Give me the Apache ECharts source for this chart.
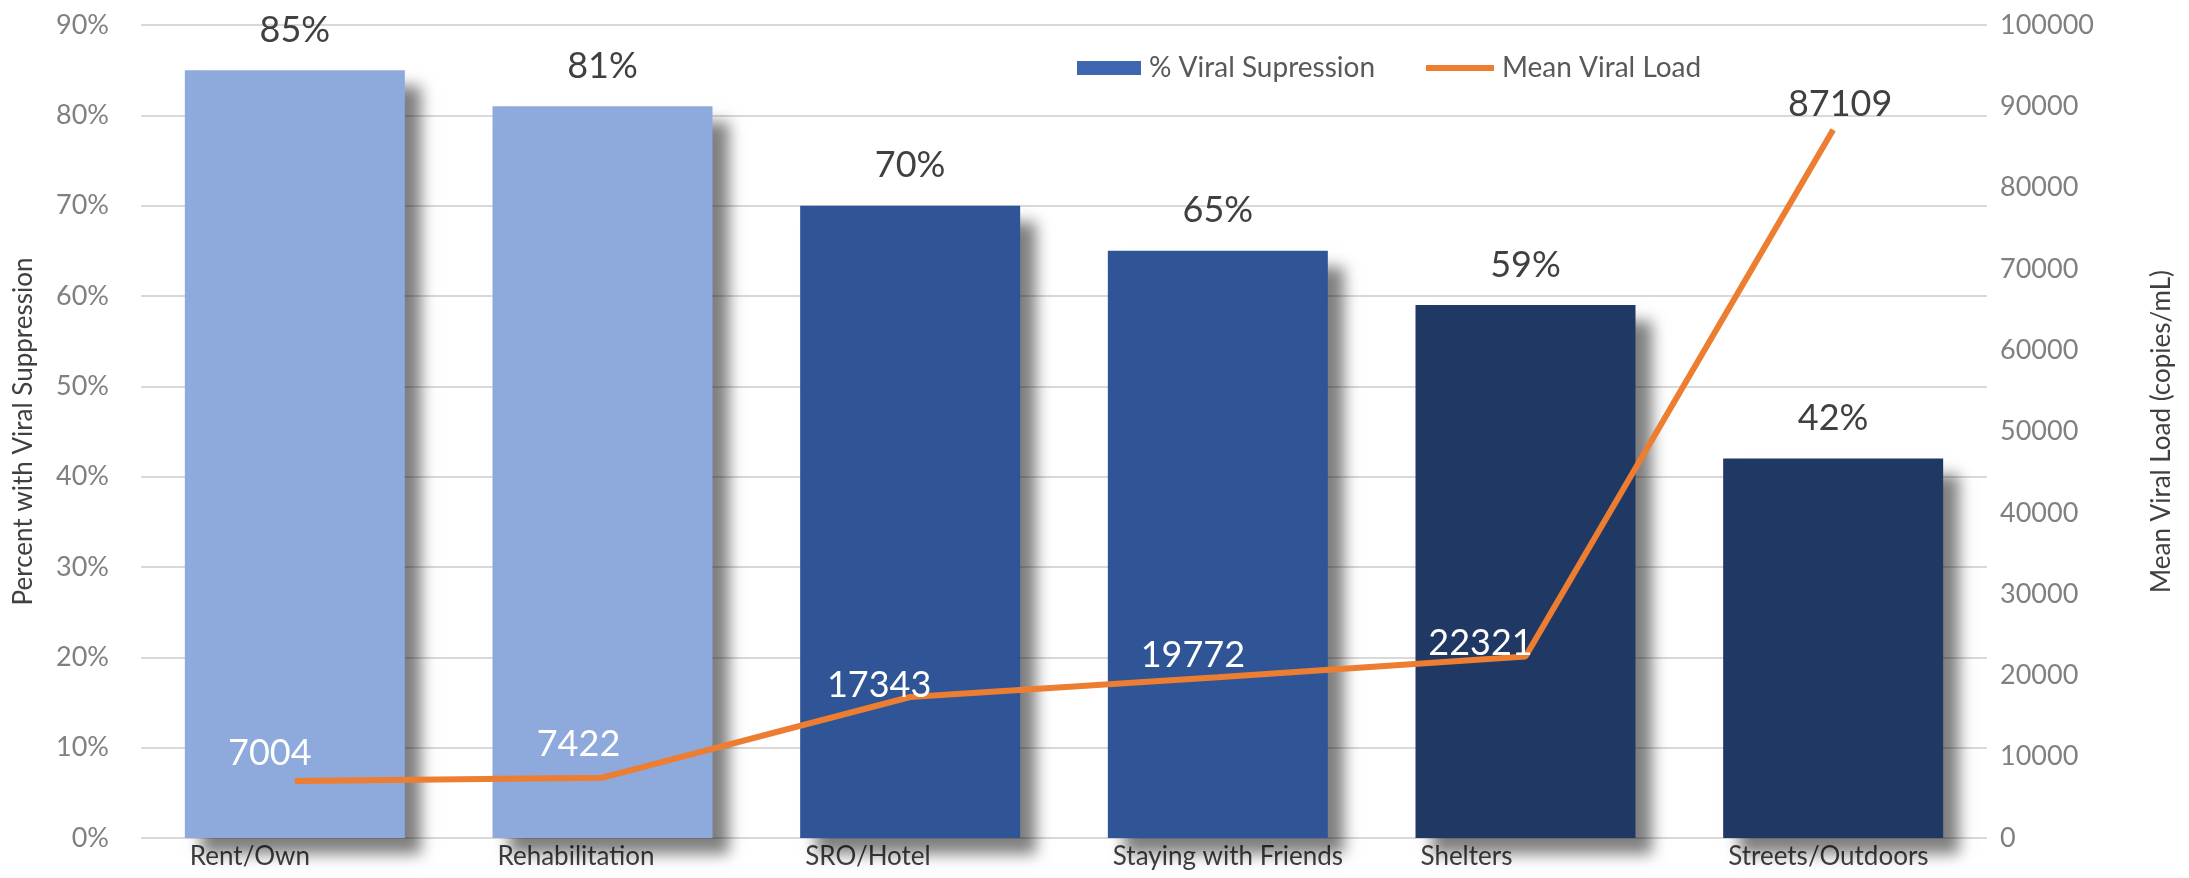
<!DOCTYPE html>
<html>
<head>
<meta charset="utf-8">
<script src="https://cdn.jsdelivr.net/npm/echarts@6/dist/echarts.min.js"></script>
<style>html,body{margin:0;padding:0;background:#fff}#c{width:2189px;height:878px}</style>
</head>
<body>
<div id="c"></div>
<script>
var categories = ['Rent/Own', 'Rehabilitation', 'SRO/Hotel', 'Staying with Friends', 'Shelters', 'Streets/Outdoors'];
var suppression = [85, 81, 70, 65, 59, 42];
var viralLoad = [7004, 7422, 17343, 19772, 22321, 87109];
var barColors = ['#8EA9DB', '#8EA9DB', '#2F5597', '#2F5597', '#203864', '#203864'];

// label nudges (style only, not data)
var lineLabelNudge = [[-25, -10], [-24, -15], [-31, 6], [-25, -4], [-45, 5], [7, -7]];
var lineLabelColor = ['#ffffff', '#ffffff', '#ffffff', '#ffffff', '#ffffff', '#404040'];

var FONT = 'Lato';
var chart = echarts.init(document.getElementById('c'));

var barData = suppression.map(function (v, i) {
  return { value: v, itemStyle: { color: barColors[i] } };
});
var lineData = viralLoad.map(function (v, i) {
  return { value: v, label: { color: lineLabelColor[i], offset: lineLabelNudge[i] } };
});

var legendText = { fontFamily: FONT, fontSize: 28, color: '#595959', padding: [0, 0, 0, 3] };

chart.setOption({
  animation: false,
  textStyle: { fontFamily: FONT },
  grid: { left: 141, right: 202, top: 25, bottom: 40, containLabel: false },
  legend: [
    {
      left: 1072, top: 49,
      itemWidth: 64, itemHeight: 14,
      textStyle: legendText,
      data: [{ name: '% Viral Supression', icon: 'rect' }]
    },
    {
      left: 1421, top: 49,
      itemWidth: 68, itemHeight: 6,
      textStyle: legendText,
      data: [{ name: 'Mean Viral Load', icon: 'rect' }]
    }
  ],
  xAxis: {
    type: 'category',
    data: categories,
    axisLine: { show: false },
    axisTick: { show: false },
    axisLabel: {
      margin: 6,
      formatter: function (v) { return '{a|' + v + '}'; },
      rich: { a: { width: 210, align: 'left', fontFamily: FONT, fontSize: 26, color: '#404040' } }
    }
  },
  yAxis: [
    {
      type: 'value', min: 0, max: 90, interval: 10,
      name: 'Percent with Viral Suppression',
      nameLocation: 'middle', nameGap: 104,
      nameTextStyle: { fontFamily: FONT, fontSize: 26, color: '#404040' },
      axisLabel: { formatter: '{value}%', margin: 32, fontFamily: FONT, fontSize: 27, color: '#808080' },
      splitLine: { lineStyle: { color: '#D9D9D9', width: 2 } },
      axisLine: { show: false }, axisTick: { show: false }
    },
    {
      type: 'value', min: 0, max: 100000, interval: 10000,
      name: 'Mean Viral Load (copies/mL)',
      nameLocation: 'middle', nameGap: 162,
      nameTextStyle: { fontFamily: FONT, fontSize: 26, color: '#404040' },
      axisLabel: {
        margin: 13, fontFamily: FONT, fontSize: 27, color: '#808080',
        formatter: function (v) { return String(v); }
      },
      splitLine: { show: false },
      axisLine: { show: false }, axisTick: { show: false }
    }
  ],
  series: [
    {
      name: '% Viral Supression',
      type: 'bar',
      barWidth: 220,
      itemStyle: {
        color: '#3F66B0',
        shadowColor: 'rgba(0,0,0,0.5)',
        shadowBlur: 14,
        shadowOffsetX: 16,
        shadowOffsetY: 16
      },
      label: {
        show: true, position: 'top', distance: 22,
        formatter: '{c}%',
        fontFamily: FONT, fontSize: 36, color: '#404040'
      },
      data: barData
    },
    {
      name: 'Mean Viral Load',
      type: 'line',
      yAxisIndex: 1,
      symbol: 'circle',
      symbolSize: 0,
      showSymbol: true,
      lineStyle: { color: '#ED7D31', width: 6 },
      itemStyle: { color: '#ED7D31' },
      label: {
        show: true, position: 'top', distance: 0,
        fontFamily: FONT, fontSize: 36, color: '#ffffff'
      },
      data: lineData,
      z: 5
    }
  ]
});
</script>
</body>
</html>
